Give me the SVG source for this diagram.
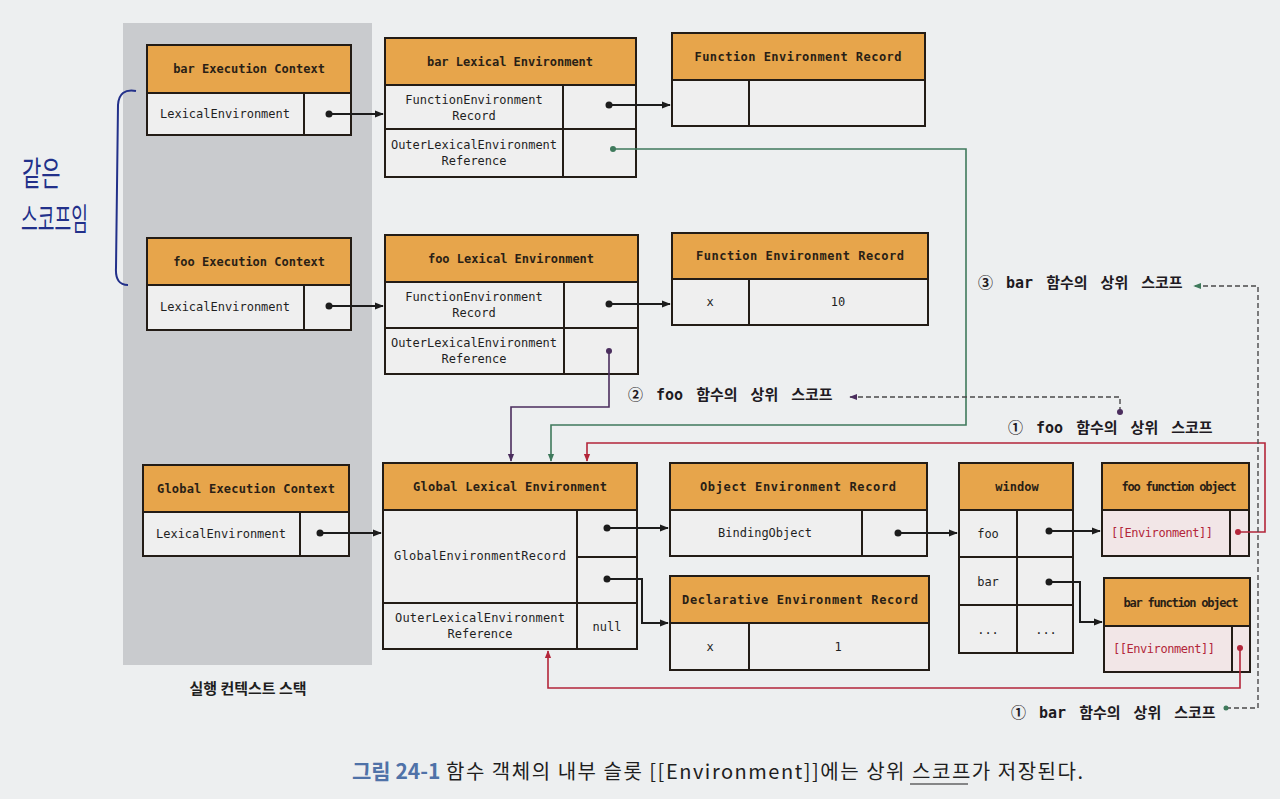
<svg xmlns="http://www.w3.org/2000/svg" width="1280" height="799" viewBox="0 0 1280 799">
<style>
.hdr{fill:#E7A54B;stroke:#231c16;stroke-width:2}
.cell{fill:#EFEFEF;stroke:#231c16;stroke-width:2}
.pink{fill:#F2E6E7;stroke:#231c16;stroke-width:2}
.div{stroke:#231c16;stroke-width:2}
.ht{font-family:"DejaVu Sans Mono","Liberation Mono",monospace;font-weight:bold;font-size:12px;fill:#2a1f16;text-anchor:middle}
.t{font-family:"DejaVu Sans Mono","Liberation Mono",monospace;font-size:12px;fill:#1f1f1f;text-anchor:middle}
.red{fill:#b3263a}
.ann{font-family:"DejaVu Sans Mono","Noto Sans CJK KR",monospace;font-weight:bold;font-size:15px;fill:#1e1a22;word-spacing:4px}
.k{font-family:"Noto Sans CJK KR","Noto Sans",sans-serif}
.c{fill:none;stroke:#1c1c1c;stroke-width:2}
.g{fill:none;stroke:#3f7a5c;stroke-width:1.6}
.p{fill:none;stroke:#4b2e5e;stroke-width:1.6}
.r{fill:none;stroke:#b3263a;stroke-width:1.6}
.d{fill:none;stroke:#4a4a4a;stroke-width:1.4;stroke-dasharray:5 3}
</style>
<defs>
<marker id="ak" viewBox="0 0 10 10" refX="9" refY="5" markerWidth="9" markerHeight="9" markerUnits="userSpaceOnUse" orient="auto"><path d="M0,1 L10,5 L0,9 z" fill="#1c1c1c"/></marker>
<marker id="ag" viewBox="0 0 10 10" refX="9" refY="5" markerWidth="8" markerHeight="8" markerUnits="userSpaceOnUse" orient="auto"><path d="M0,1 L10,5 L0,9 z" fill="#3f7a5c"/></marker>
<marker id="ap" viewBox="0 0 10 10" refX="9" refY="5" markerWidth="8" markerHeight="8" markerUnits="userSpaceOnUse" orient="auto"><path d="M0,1 L10,5 L0,9 z" fill="#4b2e5e"/></marker>
<marker id="ar" viewBox="0 0 10 10" refX="9" refY="5" markerWidth="8" markerHeight="8" markerUnits="userSpaceOnUse" orient="auto"><path d="M0,1 L10,5 L0,9 z" fill="#b3263a"/></marker>
</defs>
<rect x="0" y="0" width="1280" height="799" fill="#EDEFF0"/>

<g id="stack">
<rect x="123" y="23" width="249" height="642" fill="#C9CBCE"/>
<text x="248" y="694" class="k" font-size="15" font-weight="bold" fill="#1e1e1e" text-anchor="middle">실행 컨텍스트 스택</text>
</g>

<g id="note">
<path d="M136 91 Q119 88 118 105 L116 268 Q115 285 128 285" fill="none" stroke="#22308a" stroke-width="2"/>
<text transform="translate(22,186) scale(0.75,1.2)" class="k" font-size="28" fill="#22308a">같은</text>
<text transform="translate(21,230) scale(0.7,1.2)" class="k" font-size="26" fill="#22308a">스코프임</text>
</g>

<g id="bar-ec">
<rect class="hdr" x="147" y="45" width="204" height="48"/>
<rect class="cell" x="147" y="93" width="204" height="42"/>
<line class="div" x1="304" y1="93" x2="304" y2="135"/>
<text class="ht" x="249" y="73">bar Execution Context</text>
<text class="t" x="225" y="118">LexicalEnvironment</text>
</g>

<g id="foo-ec">
<rect class="hdr" x="147" y="238" width="204" height="47"/>
<rect class="cell" x="147" y="285" width="204" height="45"/>
<line class="div" x1="304" y1="285" x2="304" y2="330"/>
<text class="ht" x="249" y="266">foo Execution Context</text>
<text class="t" x="225" y="311">LexicalEnvironment</text>
</g>

<g id="global-ec">
<rect class="hdr" x="143" y="465" width="206" height="47"/>
<rect class="cell" x="143" y="512" width="206" height="44"/>
<line class="div" x1="300" y1="512" x2="300" y2="556"/>
<text class="ht" x="246" y="493" textLength="178">Global Execution Context</text>
<text class="t" x="221" y="538">LexicalEnvironment</text>
</g>

<g id="bar-lex">
<rect class="hdr" x="385" y="38" width="251" height="47"/>
<rect class="cell" x="385" y="85" width="251" height="92"/>
<line class="div" x1="385" y1="129" x2="636" y2="129"/>
<line class="div" x1="563" y1="85" x2="563" y2="177"/>
<text class="ht" x="510" y="66">bar Lexical Environment</text>
<text class="t" x="474" y="104">FunctionEnvironment</text>
<text class="t" x="474" y="120">Record</text>
<text class="t" x="474" y="149">OuterLexicalEnvironment</text>
<text class="t" x="474" y="165">Reference</text>
</g>

<g id="bar-fer">
<rect class="hdr" x="672" y="33" width="253" height="47"/>
<rect class="cell" x="672" y="80" width="253" height="46"/>
<line class="div" x1="749" y1="80" x2="749" y2="126"/>
<text class="ht" x="798" y="61" textLength="207">Function Environment Record</text>
</g>

<g id="foo-lex">
<rect class="hdr" x="385" y="235" width="253" height="47"/>
<rect class="cell" x="385" y="282" width="253" height="92"/>
<line class="div" x1="385" y1="328" x2="638" y2="328"/>
<line class="div" x1="564" y1="282" x2="564" y2="374"/>
<text class="ht" x="511" y="263">foo Lexical Environment</text>
<text class="t" x="474" y="301">FunctionEnvironment</text>
<text class="t" x="474" y="317">Record</text>
<text class="t" x="474" y="347">OuterLexicalEnvironment</text>
<text class="t" x="474" y="363">Reference</text>
</g>

<g id="foo-fer">
<rect class="hdr" x="672" y="233" width="256" height="46"/>
<rect class="cell" x="672" y="279" width="256" height="46"/>
<line class="div" x1="749" y1="279" x2="749" y2="325"/>
<text class="ht" x="800" y="260" textLength="208">Function Environment Record</text>
<text class="t" x="710" y="306">x</text>
<text class="t" x="838" y="306">10</text>
</g>

<g id="global-lex">
<rect class="hdr" x="383" y="463" width="254" height="47"/>
<rect class="cell" x="383" y="510" width="254" height="139"/>
<line class="div" x1="383" y1="603" x2="637" y2="603"/>
<line class="div" x1="577" y1="510" x2="577" y2="649"/>
<line class="div" x1="577" y1="557" x2="637" y2="557"/>
<text class="ht" x="510" y="491" textLength="194">Global Lexical Environment</text>
<text class="t" x="480" y="560" textLength="172">GlobalEnvironmentRecord</text>
<text class="t" x="480" y="622" textLength="170">OuterLexicalEnvironment</text>
<text class="t" x="480" y="638">Reference</text>
<text class="t" x="607" y="631">null</text>
</g>

<g id="object-er">
<rect class="hdr" x="670" y="463" width="257" height="47"/>
<rect class="cell" x="670" y="510" width="257" height="46"/>
<line class="div" x1="862" y1="510" x2="862" y2="556"/>
<text class="ht" x="798" y="491" textLength="196">Object Environment Record</text>
<text class="t" x="765" y="537" font-size="13">BindingObject</text>
</g>

<g id="decl-er">
<rect class="hdr" x="670" y="576" width="259" height="47"/>
<rect class="cell" x="670" y="623" width="259" height="47"/>
<line class="div" x1="749" y1="623" x2="749" y2="670"/>
<text class="ht" x="800" y="604" textLength="236">Declarative Environment Record</text>
<text class="t" x="710" y="651">x</text>
<text class="t" x="838" y="651">1</text>
</g>

<g id="window">
<rect class="hdr" x="959" y="463" width="114" height="47"/>
<rect class="cell" x="959" y="510" width="114" height="143"/>
<line class="div" x1="959" y1="557" x2="1073" y2="557"/>
<line class="div" x1="959" y1="605" x2="1073" y2="605"/>
<line class="div" x1="1017" y1="510" x2="1017" y2="653"/>
<text class="ht" x="1017" y="491">window</text>
<text class="t" x="988" y="538" font-size="13">foo</text>
<text class="t" x="988" y="586" font-size="13">bar</text>
<text class="t" x="988" y="634">...</text>
<text class="t" x="1046" y="634">...</text>
</g>

<g id="foo-fn">
<rect class="hdr" x="1102" y="463" width="147" height="47"/>
<rect class="pink" x="1102" y="510" width="147" height="46"/>
<line class="div" x1="1230" y1="510" x2="1230" y2="556"/>
<text class="ht" x="1179" y="491" font-size="11" textLength="115">foo function object</text>
<text class="t red" x="1162" y="537" font-size="11" textLength="102">[[Environment]]</text>
</g>

<g id="bar-fn">
<rect class="hdr" x="1104" y="578" width="146" height="48"/>
<rect class="pink" x="1104" y="626" width="146" height="46"/>
<line class="div" x1="1232" y1="626" x2="1232" y2="672"/>
<text class="ht" x="1181" y="607" font-size="11" textLength="115">bar function object</text>
<text class="t red" x="1164" y="653" font-size="11" textLength="102">[[Environment]]</text>
</g>

<g id="connectors">
<path class="c" d="M329 114 H383" marker-end="url(#ak)"/>
<path class="c" d="M329 306 H383" marker-end="url(#ak)"/>
<path class="c" d="M320 533 H381" marker-end="url(#ak)"/>
<path class="c" d="M609 105 H670" marker-end="url(#ak)"/>
<path class="c" d="M609 304 H670" marker-end="url(#ak)"/>
<path class="c" d="M607 528 H668" marker-end="url(#ak)"/>
<path class="c" d="M607 579 H642 V623 H668" marker-end="url(#ak)"/>
<path class="c" d="M898 533 H957" marker-end="url(#ak)"/>
<path class="c" d="M1049 531 H1100" marker-end="url(#ak)"/>
<path class="c" d="M1049 582 H1080 V622 H1102" marker-end="url(#ak)"/>
<g fill="#1c1c1c">
<circle cx="329" cy="114" r="3.5"/><circle cx="329" cy="306" r="3.5"/><circle cx="320" cy="533" r="3.5"/>
<circle cx="609" cy="105" r="3.5"/><circle cx="609" cy="304" r="3.5"/><circle cx="607" cy="528" r="3.5"/>
<circle cx="607" cy="579" r="3.5"/><circle cx="898" cy="533" r="3.5"/><circle cx="1049" cy="531" r="3.5"/>
<circle cx="1049" cy="582" r="3.5"/>
</g>
<path class="g" d="M613 149 H966 V425 H551 V461" marker-end="url(#ag)"/>
<circle cx="613" cy="149" r="3" fill="#3f7a5c"/>
<path class="p" d="M609 351 V407 H511 V461" marker-end="url(#ap)"/>
<circle cx="609" cy="351" r="3" fill="#4b2e5e"/>
<path class="r" d="M1238 532 H1265 V443 H587 V461" marker-end="url(#ar)"/>
<circle cx="1238" cy="532" r="3" fill="#b3263a"/>
<path class="r" d="M1240 648 V688 H548 V651" marker-end="url(#ar)"/>
<circle cx="1240" cy="648" r="3" fill="#b3263a"/>
<path class="d" d="M1120 412 V397 H850" marker-end="url(#ap)"/>
<circle cx="1120" cy="412" r="3" fill="#4b2e5e"/>
<path class="d" d="M1226 708 H1258 V286 H1194" marker-end="url(#ag)"/>
<circle cx="1226" cy="708" r="2.5" fill="#3f7a5c"/>
</g>

<g id="labels">
<text class="ann" x="628" y="400">② foo 함수의 상위 스코프</text>
<text class="ann" x="1008" y="433">① foo 함수의 상위 스코프</text>
<text class="ann" x="978" y="288">③ bar 함수의 상위 스코프</text>
<text class="ann" x="1011" y="718">① bar 함수의 상위 스코프</text>
</g>

<g id="caption">
<text x="352" y="779" class="k" font-size="21" font-weight="bold" fill="#4f72a8">그림 24-1</text>
<text x="446" y="779" class="k" font-size="20" fill="#1e1e1e" textLength="637">함수 객체의 내부 슬롯 [[Environment]]에는 상위 스코프가 저장된다.</text>
<line x1="910" y1="784" x2="968" y2="784" stroke="#1e1e1e" stroke-width="1.2"/>
</g>
</svg>
